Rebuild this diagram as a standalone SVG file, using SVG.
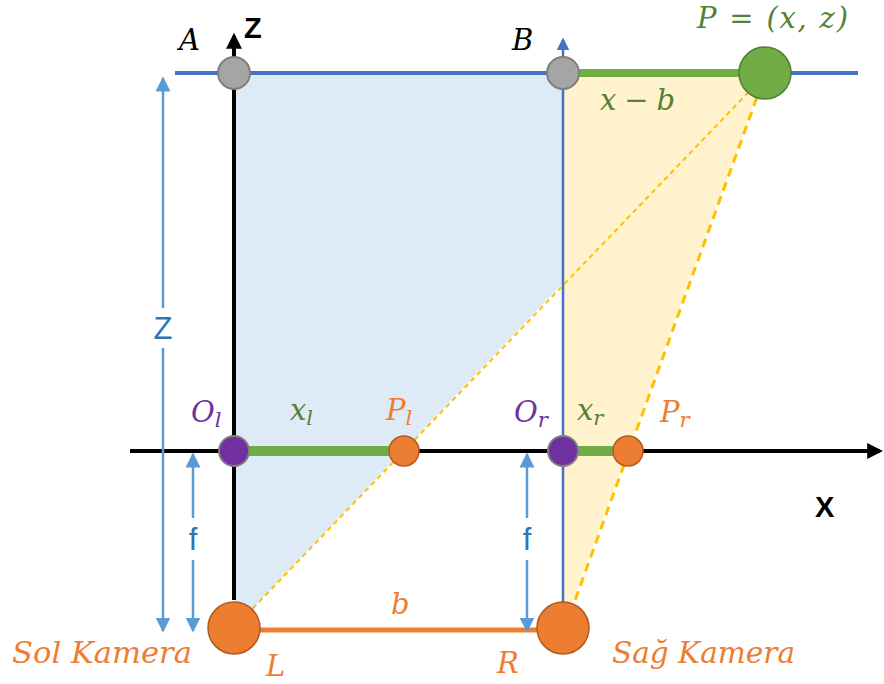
<svg xmlns="http://www.w3.org/2000/svg" width="884" height="684" viewBox="0 0 884 684">
<defs>
<marker id="ab" viewBox="0 0 10 10" refX="8" refY="5" markerWidth="4" markerHeight="4" orient="auto-start-reverse"><path d="M0,0 L10,5 L0,10 z" fill="#000"/></marker>
<marker id="abl" viewBox="0 0 10 10" refX="8" refY="5" markerWidth="5" markerHeight="5" orient="auto-start-reverse"><path d="M0,0 L10,5 L0,10 z" fill="#4472C4"/></marker>
<marker id="ad" viewBox="0 0 10 10" refX="9" refY="5" markerWidth="6" markerHeight="6" orient="auto-start-reverse"><path d="M0,0 L10,5 L0,10 z" fill="#5B9BD5"/></marker>
<style>
.m{font-family:"DejaVu Serif","Liberation Serif",serif;font-style:italic;font-size:29px}
.sub{font-size:21px}
.s{font-family:"Liberation Sans",Arial,sans-serif}
.ax{font-size:29px;font-weight:bold;fill:#000}
.dl{font-size:31px;fill:#2E75B6}
.dim{stroke:#5B9BD5;stroke-width:2.5;fill:none}
.gray{fill:#A5A5A5;stroke:#7F7F7F;stroke-width:2}
.pur{fill:#7030A0;stroke:#7F7F7F;stroke-width:2}
.org{fill:#ED7D31;stroke:#AE5A21;stroke-width:1.5}
</style>
</defs>
<rect width="884" height="684" fill="#fff"/>
<g id="fills">
<polygon points="234,73 563,73 563,283 234,628" fill="#DEEBF7"/>
<polygon points="563,73 765,73 563,628" fill="#FFF2CC"/>
</g>
<g id="connectors">
<line x1="175" y1="73" x2="858" y2="73" stroke="#4472C4" stroke-width="4"/>
<line x1="234" y1="600" x2="234" y2="36" stroke="#000" stroke-width="4" marker-end="url(#ab)"/>
<line x1="563" y1="628" x2="563" y2="40" stroke="#4472C4" stroke-width="2.5" marker-end="url(#abl)"/>
<line x1="130" y1="451" x2="880" y2="451" stroke="#000" stroke-width="4" marker-end="url(#ab)"/>
<line x1="563" y1="73" x2="765" y2="73" stroke="#70AD47" stroke-width="8"/>
<line x1="234" y1="451" x2="404" y2="451" stroke="#70AD47" stroke-width="10"/>
<line x1="563" y1="451" x2="628" y2="451" stroke="#70AD47" stroke-width="10"/>
<line x1="234" y1="630" x2="563" y2="630" stroke="#ED7D31" stroke-width="5"/>
<line x1="234" y1="628" x2="765" y2="75" stroke="#FFC000" stroke-width="2" stroke-dasharray="5,4"/>
<line x1="565" y1="628" x2="765" y2="75" stroke="#FFC000" stroke-width="3" stroke-dasharray="9,6"/>
<line class="dim" x1="163" y1="308" x2="163" y2="78" marker-end="url(#ad)"/>
<line class="dim" x1="163" y1="348" x2="163" y2="631" marker-end="url(#ad)"/>
<line class="dim" x1="193" y1="518" x2="193" y2="454" marker-end="url(#ad)"/>
<line class="dim" x1="193" y1="560" x2="193" y2="631" marker-end="url(#ad)"/>
<line class="dim" x1="527" y1="518" x2="527" y2="454" marker-end="url(#ad)"/>
<line class="dim" x1="527" y1="560" x2="527" y2="631" marker-end="url(#ad)"/>
</g>
<g id="A"><circle class="gray" cx="234" cy="73" r="16"/><text class="m" x="179" y="50" fill="#000">A</text></g>
<g id="B"><circle class="gray" cx="563" cy="73" r="16"/><text class="m" x="512" y="50" fill="#000">B</text></g>
<g id="P"><circle cx="765" cy="73" r="26" fill="#70AD47" stroke="#507E32" stroke-width="1.5"/><text class="m" x="697" y="28" fill="#548235" textLength="151" lengthAdjust="spacing">P = (x, z)</text></g>
<g id="Ol"><circle class="pur" cx="234" cy="451" r="15"/><text class="m" x="191" y="422" fill="#7030A0">O<tspan class="sub" dy="5">l</tspan></text></g>
<g id="Pl"><circle class="org" cx="404" cy="451" r="15"/><text class="m" x="386" y="420" fill="#ED7D31">P<tspan class="sub" dy="5">l</tspan></text></g>
<g id="Or"><circle class="pur" cx="563" cy="451" r="15"/><text class="m" x="514" y="422" fill="#7030A0">O<tspan class="sub" dy="5">r</tspan></text></g>
<g id="Pr"><circle class="org" cx="628" cy="451" r="15"/><text class="m" x="660" y="422" fill="#ED7D31">P<tspan class="sub" dy="5">r</tspan></text></g>
<g id="L"><circle class="org" cx="234" cy="628" r="26"/><text class="m" x="266" y="676" fill="#ED7D31">L</text><text class="m" x="12" y="663" fill="#ED7D31" textLength="180" lengthAdjust="spacingAndGlyphs">Sol Kamera</text></g>
<g id="R"><circle class="org" cx="563" cy="628" r="26"/><text class="m" x="497" y="673" fill="#ED7D31">R</text><text class="m" x="612" y="663" fill="#ED7D31" textLength="183" lengthAdjust="spacingAndGlyphs">Sağ Kamera</text></g>
<g id="labels">
<text class="s ax" x="244" y="38">Z</text>
<text class="s ax" x="815" y="517">X</text>
<text class="m" x="600" y="110" fill="#548235" textLength="75" lengthAdjust="spacing">x − b</text>
<text class="m" x="290" y="420" fill="#548235">x<tspan class="sub" dy="5">l</tspan></text>
<text class="m" x="577" y="420" fill="#548235">x<tspan class="sub" dy="5">r</tspan></text>
<text class="m" x="391" y="614" fill="#ED7D31">b</text>
<text class="s dl" x="163" y="339" text-anchor="middle">Z</text>
<text class="s dl" x="193" y="550" text-anchor="middle">f</text>
<text class="s dl" x="527" y="550" text-anchor="middle">f</text>
</g>
</svg>
